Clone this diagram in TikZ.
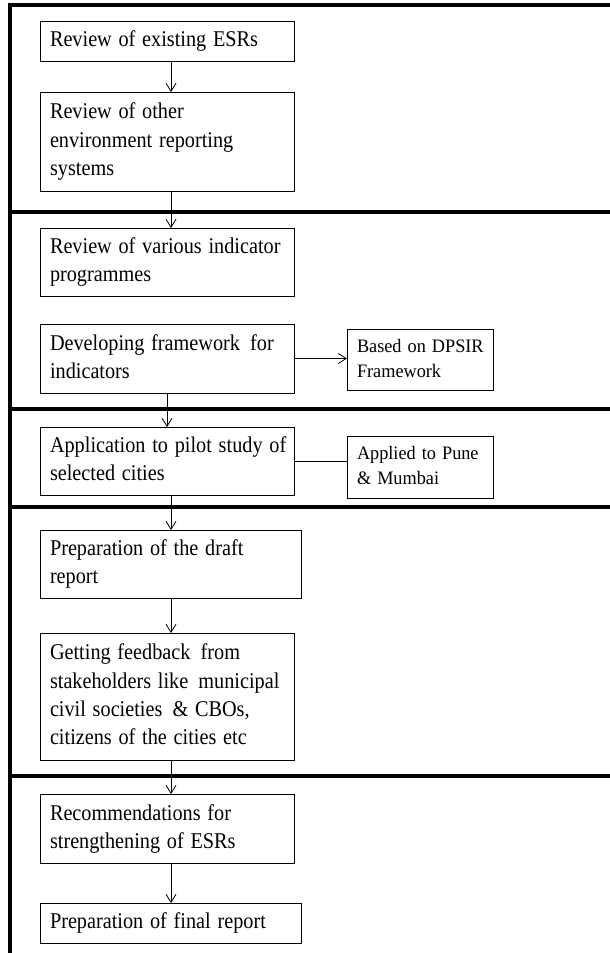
\documentclass[tikz,border=0pt]{standalone}
\usepackage{fontspec}
\usepackage{graphicx}
\setmainfont{Liberation Serif}
\newfontfamily\notefont[WordSpace=0.6]{Liberation Serif}
\usetikzlibrary{arrows.meta}
% narrow, left-aligned block of lines
\newcommand\steptext[1]{\scalebox{0.9}[1]{\begin{tabular}{@{}l@{}}#1\end{tabular}}}
\newcommand\notetext[1]{\scalebox{0.96}[1]{\begin{tabular}{@{}l@{}}#1\end{tabular}}}
\begin{document}
\begin{tikzpicture}[x=1pt,y=-1pt,
  stepbox/.style={draw, line width=0.9pt, anchor=north west, inner xsep=10pt,
    inner ysep=0pt, outer sep=0pt, align=left,
    font={\fontsize{22.5}{28.3}\selectfont}},
  sidebox/.style={stepbox, font={\notefont\fontsize{19}{25}\selectfont}},
  arr/.style={line width=0.8pt, -{Straight Barb[length=8pt,width=10pt,line width=0.8pt]}},
  link/.style={line width=0.8pt},
  band/.style={line width=3.5pt}]
\useasboundingbox (0,0) rectangle (610,953);

% stage frame: top rule, left rule and separators
\draw[band, line cap=butt] (610,5) -- (10,5) -- (10,953);
\foreach \yy in {212,409,507,776} \draw[band] (10,\yy) -- (610,\yy);

% process steps
\node[stepbox, text width=234pt, minimum height=40pt] (b1) at (40,21) {\steptext{Review of existing ESRs}};
\node[stepbox, text width=234pt, minimum height=99pt] (b2) at (40,92) {\steptext{Review of other\\environment reporting\\systems}};
\node[stepbox, text width=234pt, minimum height=68pt] (b3) at (40,228) {\steptext{Review of various indicator\\programmes}};
\node[stepbox, text width=234pt, minimum height=69pt] (b4) at (40,324) {\steptext{Developing framework\, for\\indicators}};
\node[sidebox, text width=126pt, minimum height=61pt] (d1) at (347,329) {\notetext{Based on DPSIR\\Framework}};
\node[stepbox, text width=234pt, minimum height=68pt] (b5) at (40,427) {\steptext{Application to pilot study of\\selected cities}};
\node[sidebox, text width=126pt, minimum height=62pt] (d2) at (347,436) {\notetext{Applied to Pune\\\& Mumbai}};
\node[stepbox, text width=241pt, minimum height=68pt] (b6) at (40,530) {\steptext{Preparation of the draft\\report}};
\node[stepbox, text width=234pt, minimum height=127pt] (b7) at (40,633) {\steptext{Getting feedback\, from\\stakeholders like\, municipal\\civil societies\, \& CBOs,\\citizens of the cities etc}};
\node[stepbox, text width=234pt, minimum height=69pt] (b8) at (40,794) {\steptext{Recommendations for\\strengthening of ESRs}};
\node[stepbox, text width=241pt, minimum height=40pt] (b9) at (40,903) {\steptext{Preparation of final report}};

% connectors
\draw[arr] (b1.south -| 171,0) -- (b2.north -| 171,0);
\draw[arr] (b2.south -| 171,0) -- (b3.north -| 171,0);
\draw[arr] (b4.east) -- (b4.east -| d1.west);
\draw[arr] (b4.south -| 167,0) -- (b5.north -| 167,0);
\draw[link] (b5.east) -- (b5.east -| d2.west);
\draw[arr] (b5.south -| 171,0) -- (b6.north -| 171,0);
\draw[arr] (b6.south -| 171,0) -- (b7.north -| 171,0);
\draw[arr] (b7.south -| 171,0) -- (b8.north -| 171,0);
\draw[arr] (b8.south -| 171,0) -- (b9.north -| 171,0);
\end{tikzpicture}
\end{document}
